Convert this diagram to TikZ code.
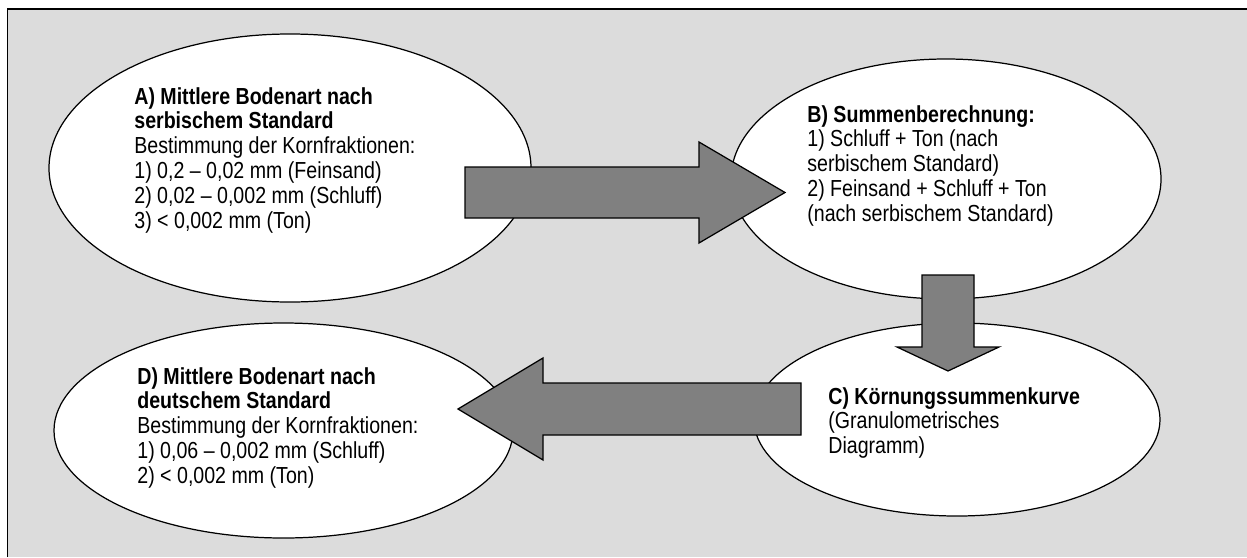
\documentclass[tikz,border=0pt]{standalone}
\usepackage{fontspec}
\setmainfont{Liberation Sans}[FakeStretch=0.845]
\usepackage{xcolor}
\usetikzlibrary{shapes.geometric,positioning}

\definecolor{bggray}{HTML}{DCDCDC}
\definecolor{arrowgray}{HTML}{808080}

\begin{document}
\begin{tikzpicture}[
      field/.style={ellipse, draw, fill=white, line width=0.7pt, inner sep=0pt},
      txt/.style={anchor=north west, align=left, inner sep=0pt,
          font=\fontsize{13.2}{14.1}\selectfont},
      bigarrow/.style={draw, fill=arrowgray, line width=0.7pt, line join=miter}
    ]
    \useasboundingbox (0,0) rectangle (24.94,-11.14);
    \fill[bggray] (0.15,-0.18) rectangle (24.94,-11.14);
    \draw[line width=0.8pt] (0.15,-11.14) -- (0.15,-0.18) -- (24.94,-0.18);

    \node[field, minimum width=9.64cm, minimum height=5.36cm] (A) at (5.80,-3.36) {};
    \node[field, minimum width=8.60cm, minimum height=4.80cm] (B) at (18.92,-3.58) {};
    \node[field, minimum width=8.12cm, minimum height=3.86cm] (C) at (19.14,-8.39) {};
    \node[field, minimum width=9.18cm, minimum height=4.30cm] (D) at (5.67,-8.61) {};

    % block arrows A -> B -> C -> D
    \coordinate (ab) at (9.30,-3.85);
    \coordinate (bc) at (18.96,-5.50);
    \coordinate (cd) at (16.02,-8.17);
    \draw[bigarrow] (ab) ++(0,0.51) -- ++(4.68,0) -- ++(0,0.50) -- ++(1.72,-1.01)
        -- ++(-1.72,-1.01) -- ++(0,0.50) -- ++(-4.68,0) -- cycle;
    \draw[bigarrow] (bc) ++(-0.52,0) -- ++(0,-1.44) -- ++(-0.50,0) -- ++(1.02,-0.48)
        -- ++(1.02,0.48) -- ++(-0.50,0) -- ++(0,1.44) -- cycle;
    \draw[bigarrow] (cd) ++(0,0.51) -- ++(-5.16,0) -- ++(0,0.50) -- ++(-1.70,-1.02)
        -- ++(1.70,-1.02) -- ++(0,0.50) -- ++(5.16,0) -- cycle;

    \node[txt] (Atxt) at (2.68,-1.74) {\textbf{A) Mittlere Bodenart nach}\\
        \textbf{serbischem Standard}\\
        Bestimmung der Kornfraktionen:\\
        1) 0,2 -- 0,02 mm (Feinsand)\\
        2) 0,02 -- 0,002 mm (Schluff)\\
        3) < 0,002 mm (Ton)};
    \node[txt] (Btxt) at (16.14,-2.10) {\textbf{B) Summenberechnung:}\\
        1) Schluff + Ton (nach\\
        serbischem Standard)\\
        2) Feinsand + Schluff + Ton\\
        (nach serbischem Standard)};
    \node[txt] (Ctxt) at (16.56,-7.74) {\textbf{C) Körnungssummenkurve}\\
        (Granulometrisches\\
        Diagramm)};
    \node[txt] (Dtxt) at (2.74,-7.34) {\textbf{D) Mittlere Bodenart nach}\\
        \textbf{deutschem Standard}\\
        Bestimmung der Kornfraktionen:\\
        1) 0,06 -- 0,002 mm (Schluff)\\
        2) < 0,002 mm (Ton)};
  \end{tikzpicture}
\end{document}
